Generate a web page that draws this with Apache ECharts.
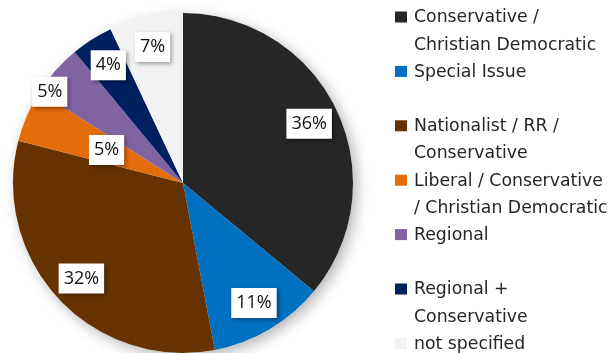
<!DOCTYPE html>
<html>
<head>
<meta charset="utf-8">
<script src="https://cdn.jsdelivr.net/npm/echarts@6/dist/echarts.min.js"></script>
<style>
  html, body { margin: 0; padding: 0; background: #fff; }
  #chart { width: 614px; height: 353px; }
</style>
</head>
<body>
<div id="chart"></div>
<script>
// Party family shares (percent)
const categories = [
  'Conservative / Christian Democratic',
  'Special Issue',
  'Nationalist / RR / Conservative',
  'Liberal / Conservative / Christian Democratic',
  'Regional',
  'Regional + Conservative',
  'not specified'
];
const legendLines = [
  ['Conservative /', 'Christian Democratic'],
  ['Special Issue'],
  ['Nationalist / RR /', 'Conservative'],
  ['Liberal / Conservative', '/ Christian Democratic'],
  ['Regional'],
  ['Regional +', 'Conservative'],
  ['not specified']
];
const shares = [36, 11, 32, 5, 5, 4, 7];
const colors = ['#262626', '#0070c0', '#663300', '#e46c0a', '#8064a2', '#002060', '#f2f2f2'];

// label placement: fraction of radius and angular nudge (degrees) per slice
const labelRadius = [0.82, 0.82, 0.82, 0.49, 0.95, 0.82, 0.82];
const labelNudge = [0, 0, 0, 0, -7, 0, 0];

const CX = 183, CY = 183, R = 170;
const FONT = '"Open Sans", sans-serif';
const LEGEND_FONT = '"DejaVu Sans", sans-serif';

const chart = echarts.init(document.getElementById('chart'), null, { renderer: 'canvas' });

const total = shares.reduce((a, b) => a + b, 0);
const midAngles = [];
let acc = 0;
shares.forEach(v => { midAngles.push((acc + v / 2) / total * 360); acc += v; });

// legend drawn as graphics so icons sit on the first text line
const graphics = [];
const rowStep = 27.2;
let row = 0;
legendLines.forEach((lines, i) => {
  const y0 = 17 + row * rowStep;
  graphics.push({
    type: 'rect',
    shape: { x: 395, y: y0 - 5.5, width: 12, height: 11 },
    style: { fill: colors[i] }
  });
  lines.forEach((t, k) => {
    graphics.push({
      type: 'text',
      x: 414, y: y0 + 1 + k * rowStep,
      style: { text: t, font: '17.3px ' + LEGEND_FONT, fill: '#262626', textVerticalAlign: 'middle', textAlign: 'left' }
    });
  });
  row += lines.length;
  if (i === 1 || i === 4) row += 1;
});

chart.setOption({
  backgroundColor: '#fff',
  animation: false,
  graphic: graphics,
  series: [
    {
      // backing disc carrying the soft drop shadow
      type: 'pie',
      silent: true,
      center: [CX, CY],
      radius: R,
      z: 1,
      label: { show: false },
      labelLine: { show: false },
      itemStyle: {
        color: '#fff',
        shadowBlur: 14,
        shadowOffsetX: 4,
        shadowOffsetY: 4,
        shadowColor: 'rgba(0,0,0,0.3)'
      },
      data: [{ value: 1 }]
    },
    {
      type: 'pie',
      center: [CX, CY],
      radius: R,
      z: 2,
      startAngle: 90,
      clockwise: true,
      avoidLabelOverlap: false,
      data: categories.map((name, i) => ({ name, value: shares[i], itemStyle: { color: colors[i] } })),
      itemStyle: { borderWidth: 0 },
      label: {
        show: true,
        position: 'inside',
        formatter: '{c}%',
        color: '#111',
        fontFamily: FONT,
        fontSize: 18,
        backgroundColor: '#fff',
        padding: [7, 5, 5, 5],
        shadowColor: 'rgba(0,0,0,0.35)',
        shadowBlur: 4,
        shadowOffsetX: 2,
        shadowOffsetY: 2
      },
      labelLine: { show: false },
      labelLayout: function (p) {
        const i = p.dataIndex;
        const a = (midAngles[i] + labelNudge[i]) * Math.PI / 180;
        const r = R * labelRadius[i];
        return { x: CX + Math.sin(a) * r, y: CY - Math.cos(a) * r };
      }
    }
  ]
});
</script>
</body>
</html>
